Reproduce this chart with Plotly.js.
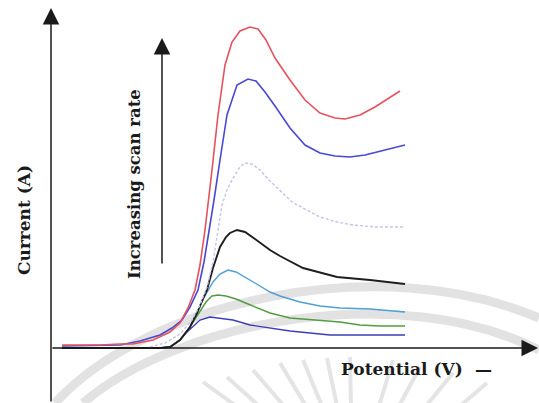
<!DOCTYPE html>
<html>
<head>
<meta charset="utf-8">
<script src="https://cdn.plot.ly/plotly-3.0.1.min.js"></script>
<style>
  html, body { margin: 0; padding: 0; background: #ffffff; }
  #chart { width: 539px; height: 403px; }
</style>
</head>
<body>
<div id="chart"></div>
<script>
// Linear sweep voltammograms at increasing scan rates.
// Potential in mV, current in µA (axes are drawn unlabelled, as a schematic).

// fastest scan (red)
const potRed = [22, 98, 138, 164, 204, 238, 258, 274, 288, 298, 308, 314, 322, 334, 348, 362, 378, 398, 414, 430, 448, 478, 508, 538, 568, 588, 618, 648, 678, 698];
const curRed = [0.75, 0.75, 1, 1, 2, 4, 6.25, 10, 14.5, 20.75, 29.5, 35.75, 44.5, 58.25, 70.75, 76.5, 79.25, 80.25, 79.75, 77, 72.5, 67, 62, 58.75, 57.5, 57.25, 58.25, 60.25, 62.75, 64.25];

// blue
const potBlue = [22, 138, 178, 218, 242, 262, 278, 294, 306, 316, 326, 338, 352, 372, 394, 410, 428, 448, 478, 508, 538, 568, 598, 628, 658, 688, 708];
const curBlue = [0.5, 0.75, 1.75, 3.25, 5, 7, 10.25, 14.5, 21.5, 29, 37, 47, 58.25, 65.75, 67.25, 66.75, 64, 60.5, 55, 50.75, 48.75, 48, 47.75, 48.25, 49.25, 50.25, 50.75];

// lavender (dashed)
const potLav = [198, 228, 258, 282, 298, 312, 324, 336, 342, 352, 364, 378, 388, 402, 418, 438, 458, 482, 504, 538, 572, 604, 648, 708];
const curLav = [0.25, 1.25, 3.5, 7, 10.75, 15.25, 21.5, 30.75, 35.75, 39.5, 42.5, 45.25, 46.25, 46, 44.5, 41.75, 39.25, 36.5, 35, 32.75, 31.5, 30.75, 30.25, 30.25];

// black
const potBlack = [22, 218, 238, 258, 278, 292, 304, 312, 324, 338, 350, 358, 372, 388, 408, 438, 458, 504, 572, 638, 708];
const curBlack = [0, 0, 0.25, 2, 5.25, 8.75, 12.25, 14.5, 20, 25.25, 27.75, 28.75, 29.5, 29, 27.25, 24.5, 23, 20, 17.75, 17, 16];

// light blue
const potSky = [22, 218, 238, 258, 278, 292, 302, 312, 324, 338, 354, 370, 388, 408, 438, 458, 498, 538, 578, 638, 708];
const curSky = [0, 0, 0.25, 2, 5.25, 8.75, 11.75, 14, 16.5, 18.5, 19.5, 19, 17.75, 16.25, 14, 13, 11.5, 10.5, 10, 9.75, 9];

// green
const potGreen = [22, 218, 238, 258, 274, 286, 298, 310, 322, 334, 350, 370, 394, 418, 438, 478, 538, 578, 618, 658, 708];
const curGreen = [0, 0, 0.25, 2, 4.5, 6.75, 9.25, 11.5, 13, 13.25, 13, 12.25, 11, 9.75, 8.75, 7.5, 7, 6.5, 5.75, 5.5, 5.5];

// slowest scan (indigo)
const potIndigo = [22, 218, 238, 258, 270, 284, 298, 318, 338, 364, 398, 438, 478, 518, 558, 618, 708];
const curIndigo = [0, 0, 0.25, 2, 3.75, 5.5, 7, 7.75, 7.5, 7, 5.75, 5, 4.25, 3.75, 3.25, 3.25, 3.25];

const labelX = 'Potential (V)';
const labelY = 'Current (A)';
const labelRate = 'Increasing scan rate';

function curve(x, y, color, width, dash) {
  return {
    type: 'scatter', mode: 'lines', x: x, y: y,
    line: { color: color, width: width, dash: dash || 'solid', shape: 'linear' },
    hoverinfo: 'skip', showlegend: false
  };
}

const data = [
  curve(potIndigo, curIndigo, '#3d3dbb', 1.4),
  curve(potGreen, curGreen, '#519c3f', 1.4),
  curve(potSky, curSky, '#4f9fd6', 1.4),
  curve(potBlack, curBlack, '#1e1e1e', 1.9),
  curve(potLav, curLav, '#c3c3ef', 1.4, '3px,2px'),
  curve(potBlue, curBlue, '#4848d4', 1.6),
  curve(potRed, curRed, '#e4525e', 1.6)
];

const serif = { family: 'DejaVu Serif, Liberation Serif, serif', size: 17, color: '#1a1a1a', weight: 'bold' };

function arrow(xTip, yTip, xTail, yTail) {
  return {
    x: xTip, y: yTip, ax: xTail, ay: yTail,
    xref: 'x', yref: 'y', axref: 'x', ayref: 'y',
    text: '', showarrow: true, arrowhead: 2, arrowsize: 2.2, arrowwidth: 1.5,
    arrowcolor: '#1a1a1a', standoff: 0, startstandoff: 0
  };
}

// faint background emblem: two arcs and a fan of rays
const arcStyle = { color: '#e2e2e2', width: 9 };
const rayStyle = { color: '#e4e4e4', width: 4 };
const rayOuter = [[304, -8.5], [352, -7.25], [404, -5.5], [458, -3.75], [504, -3], [552, -2.5], [598, -2.25], [684, -3], [738, -4.75], [804, -6.25], [872, -8.75]];
const rayInner = [[370, -14.5], [416, -14.5], [466, -14.5], [510, -14.5], [542, -14.5], [572, -14.5], [600, -14.5], [656, -14.5], [696, -14.5], [750, -14.5], [818, -14.5]];

const shapes = [
  { type: 'path', layer: 'below', xref: 'x', yref: 'y',
    path: 'M 8,-13.75 C 198,12 658,24.5 976,7.5', line: arcStyle },
  { type: 'path', layer: 'below', xref: 'x', yref: 'y',
    path: 'M 64,-13.75 C 258,7 698,17 976,-0.5', line: arcStyle }
];
rayOuter.forEach(function (p, i) {
  shapes.push({ type: 'line', layer: 'below', xref: 'x', yref: 'y',
    x0: p[0], y0: p[1], x1: rayInner[i][0], y1: rayInner[i][1], line: rayStyle });
});

const layout = {
  width: 539, height: 403,
  margin: { l: 0, r: 0, t: 0, b: 0 },
  paper_bgcolor: '#ffffff', plot_bgcolor: '#ffffff',
  showlegend: false,
  xaxis: { range: [-102, 976], visible: false, fixedrange: true },
  yaxis: { range: [-13.75, 87], visible: false, fixedrange: true },
  shapes: shapes,
  annotations: [
    arrow(0, 85, 0, -13.75),
    arrow(974, 0, 0, 0),
    arrow(222, 77.5, 222, 20.75),
    { x: -54, y: 32, xref: 'x', yref: 'y', text: labelY, textangle: -90, showarrow: false, font: serif },
    { x: 166, y: 41, xref: 'x', yref: 'y', text: labelRate, textangle: -90, showarrow: false, font: Object.assign({}, serif, { size: 16.5 }) },
    { x: 702, y: -5.25, xref: 'x', yref: 'y', text: labelX, showarrow: false, font: serif },
    { x: 864, y: -5.5, xref: 'x', yref: 'y', text: '—', showarrow: false, font: serif }
  ]
};

Plotly.newPlot('chart', data, layout, { staticPlot: true, displayModeBar: false });
</script>
</body>
</html>
